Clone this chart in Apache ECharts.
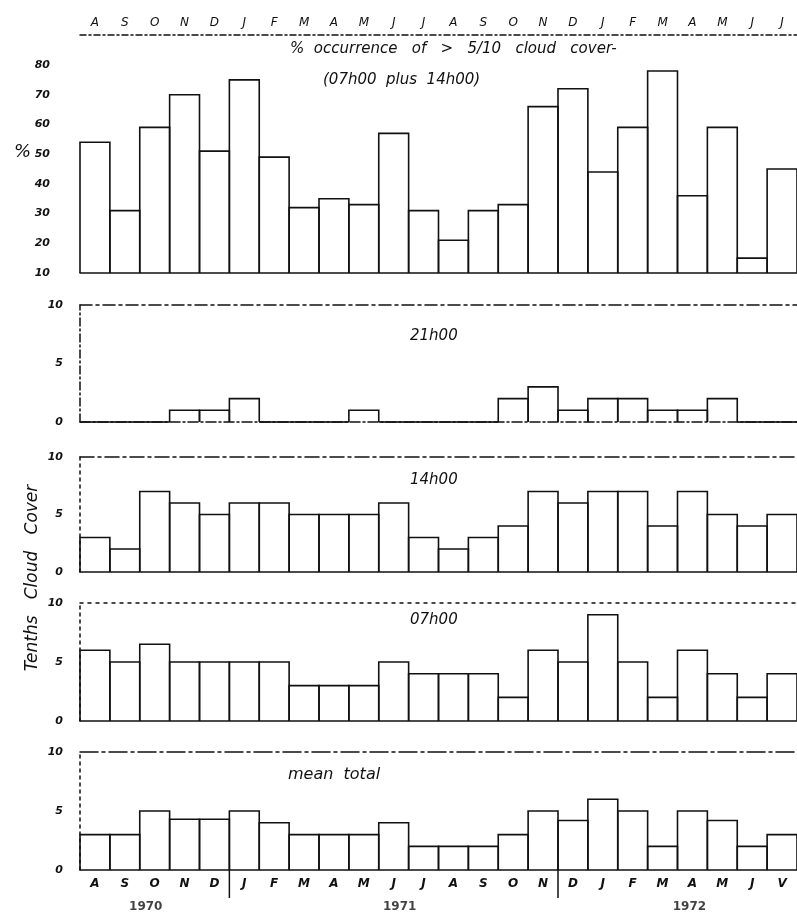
<!DOCTYPE html>
<html>
<head>
<meta charset="utf-8">
<script src="https://cdn.jsdelivr.net/npm/echarts@6/dist/echarts.min.js"></script>
<style>
html,body{margin:0;padding:0;background:#fff;}
#chart{width:797px;height:920px;}
</style>
</head>
<body>
<div id="chart"></div>
<script>
// ---- data ----
const topMonths = ['A','S','O','N','D','J','F','M','A','M','J','J','A','S','O','N','D','J','F','M','A','M','J','J'];
const bottomMonths = ['A','S','O','N','D','J','F','M','A','M','J','J','A','S','O','N','D','J','F','M','A','M','J','V'];
const pctOver5 = [54,31,59,70,51,75,49,32,35,33,57,31,21,31,33,66,72,44,59,78,36,59,15,45];
const cover21 = [0,0,0,1,1,2,0,0,0,1,0,0,0,0,2,3,1,2,2,1,1,2,0,0];
const cover14 = [3,2,7,6,5,6,6,5,5,5,6,3,2,3,4,7,6,7,7,4,7,5,4,5];
const cover07 = [6,5,6.5,5,5,5,5,3,3,3,5,4,4,4,2,6,5,9,5,2,6,4,2,4];
const coverMean = [3,3,5,4.3,4.3,5,4,3,3,3,4,2,2,2,3,5,4.2,6,5,2,5,4.2,2,3];
const pctTickMin = 10, pctTickMax = 80, pctTickStep = 10;
const tenthsMin = 0, tenthsMax = 10, tenthsStep = 5;
const years = ['1970','1971','1972'];
const yearPos = [1.7, 10.2, 19.9];
const yearBreaks = [4.5, 15.5];
const panelNames = ['21h00','14h00','07h00','mean  total'];

// ---- chart ----
const FONT = 'DejaVu Sans';
const ink = '#111';
const chart = echarts.init(document.getElementById('chart'), null, {renderer:'canvas'});

const grids = [
  {left:80, right:0, top:65, height:208},
  {left:80, right:0, top:305, height:117},
  {left:80, right:0, top:457, height:115},
  {left:80, right:0, top:603, height:118},
  {left:80, right:0, top:752, height:118}
];

function catAxis(grid, pos, lineType, extra){
  return Object.assign({
    type:'category', gridIndex:grid, position:pos, data:topMonths,
    axisTick:{show:false}, axisLabel:{show:false},
    axisLine:{show:true, onZero:false, lineStyle:{color:ink, width:1.5, type:lineType}},
    splitLine:{show:false}
  }, extra || {});
}
const xAxes = [
  catAxis(0,'bottom','solid'),
  catAxis(0,'top',[6,3,2,3],{offset:30, axisLabel:{show:true, margin:6, color:ink, fontFamily:FONT, fontStyle:'italic', fontSize:12}}),
  catAxis(1,'bottom',[10,3,2,3]),
  catAxis(1,'top',[12,4,3,4]),
  catAxis(2,'bottom','solid'),
  catAxis(2,'top',[14,4,3,4]),
  catAxis(3,'bottom','solid'),
  catAxis(3,'top',[3,5]),
  catAxis(4,'bottom','solid',{data:bottomMonths, axisLabel:{show:true, margin:8, color:ink, fontFamily:FONT, fontStyle:'italic', fontWeight:'bold', fontSize:12}}),
  catAxis(4,'top',[18,4,3,4]),
  {type:'value', gridIndex:4, min:-0.5, max:23.5, show:false}
];

function tenthsAxis(grid, lineType){
  return {
    type:'value', gridIndex:grid, min:tenthsMin, max:tenthsMax, interval:tenthsStep,
    axisLine:{show:true, onZero:false, lineStyle:{color:ink, width:1.5, type:lineType}},
    axisTick:{show:false}, splitLine:{show:false},
    axisLabel:{margin:17, color:ink, fontFamily:FONT, fontStyle:'italic', fontWeight:'bold', fontSize:11}
  };
}
const yAxes = [
  {type:'value', gridIndex:0, min:pctTickMin, max:pctTickMax, interval:pctTickStep,
   axisLine:{show:false, onZero:false}, axisTick:{show:false}, splitLine:{show:false},
   axisLabel:{margin:30, color:ink, fontFamily:FONT, fontStyle:'italic', fontWeight:'bold', fontSize:11}},
  tenthsAxis(1,[8,3,2,3]),
  tenthsAxis(2,[3,4]),
  tenthsAxis(3,[3,4]),
  tenthsAxis(4,[3,4])
];

// step outline bars: each month drawn as left, top and right edges down to the axis base
function stepSeries(yIdx, xIdx, data, base){
  return {
    type:'custom', xAxisIndex:xIdx, yAxisIndex:yIdx, silent:true, animation:false,
    data: data.map((v,i)=>[i,v]),
    renderItem: function(params, api){
      const i = api.value(0), v = api.value(1);
      const top = api.coord([i, v]);
      const bot = api.coord([i, base]);
      const w = api.size([1, 0])[0];
      const x0 = top[0] - w/2, x1 = top[0] + w/2;
      return {type:'polyline',
        shape:{points:[[x0, bot[1]],[x0, top[1]],[x1, top[1]],[x1, bot[1]]]},
        style:{stroke:ink, lineWidth:1.6, fill:null}};
    }
  };
}

const series = [
  stepSeries(0,0,pctOver5,pctTickMin),
  stepSeries(1,2,cover21,tenthsMin),
  stepSeries(2,4,cover14,tenthsMin),
  stepSeries(3,6,cover07,tenthsMin),
  stepSeries(4,8,coverMean,tenthsMin),
  {type:'scatter', xAxisIndex:10, yAxisIndex:4, symbolSize:0, silent:true, animation:false,
   data: yearPos.map((p,i)=>({value:[p,0], name:years[i]})),
   label:{show:true, position:'bottom', distance:31, formatter:(p)=>p.name,
          color:ink, fontFamily:FONT, fontWeight:'bold', fontSize:12}}
];

function txt(x, y, s, size, extra){
  return {type:'text', x:x, y:y, silent:true,
    style:Object.assign({text:s, fill:ink, font:'italic ' + size + 'px "' + FONT + '"',
      textAlign:'left', textVerticalAlign:'middle'}, extra || {})};
}

chart.setOption({
  backgroundColor:'#fff',
  animation:false,
  grid:grids,
  xAxis:xAxes,
  yAxis:yAxes,
  series:series
});

// labels and year dividers, positioned via the library's axes
const graphics = [
  txt(290, 49, '%  occurrence   of   >   5/10   cloud   cover-', 15),
  txt(323, 80, '(07h00  plus  14h00)', 15),
  txt(14, 152, '%', 18),
  txt(410, 336, panelNames[0], 15),
  txt(410, 480, panelNames[1], 15),
  txt(410, 620, panelNames[2], 15),
  txt(288, 775, panelNames[3], 16),
  {type:'text', x:33, y:578, rotation:Math.PI/2, silent:true,
   style:{text:'Tenths   Cloud   Cover', fill:ink, font:'italic 17px "' + FONT + '"',
          textAlign:'center', textVerticalAlign:'middle'}}
];
const yBase = chart.convertToPixel({yAxisIndex:4}, 0);
yearBreaks.forEach(b => {
  const xb = chart.convertToPixel({xAxisIndex:10}, b);
  graphics.push({type:'line', silent:true,
    shape:{x1:xb, y1:yBase, x2:xb, y2:yBase + 28},
    style:{stroke:ink, lineWidth:1.5}});
});
chart.setOption({graphic:graphics});
</script>
</body>
</html>
